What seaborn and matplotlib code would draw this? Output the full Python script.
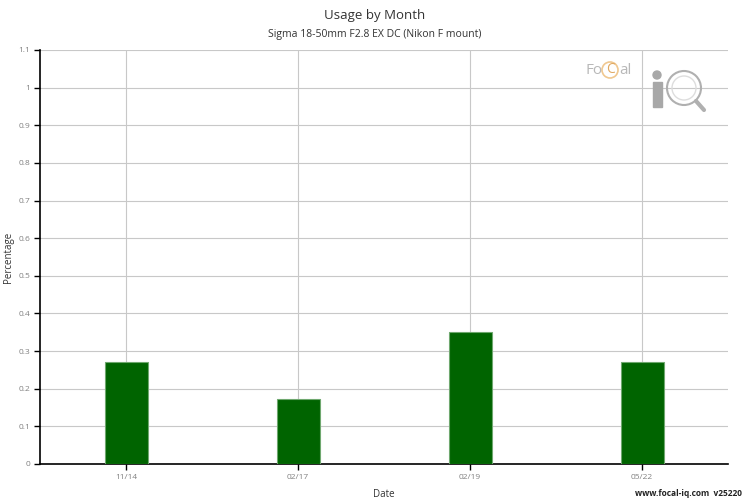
import matplotlib
matplotlib.use("Agg")
import matplotlib.pyplot as plt
import seaborn as sns
import pandas as pd
from matplotlib.patches import Circle, FancyBboxPatch

# données
dates = ["11/14", "02/17", "02/19", "05/22"]
pourcentages = [0.27, 0.174, 0.35, 0.27]
y_ticks = [0, 0.1, 0.2, 0.3, 0.4, 0.5, 0.6, 0.7, 0.8, 0.9, 1, 1.1]
y_labels = ["0", "0.1", "0.2", "0.3", "0.4", "0.5", "0.6", "0.7", "0.8", "0.9", "1", "1.1"]

df = pd.DataFrame({"Date": dates, "Percentage": pourcentages})

sns.set_theme(style="white")
plt.rcParams["font.family"] = ["Open Sans", "DejaVu Sans"]

fig = plt.figure(figsize=(7.5, 5), dpi=100)
ax = fig.add_axes([40 / 750, 36 / 500, 688 / 750, 414 / 500])

sns.barplot(data=df, x="Date", y="Percentage", color="#006400", width=0.25,
            edgecolor="#6fa86f", linewidth=0.8, saturation=1, ax=ax, zorder=3)

ax.set_xlim(-0.5, 3.5)
ax.set_ylim(0, 1.1)
ax.set_yticks(y_ticks)
ax.set_yticklabels(y_labels)

# grille
ax.grid(True, axis="both", color="#c8c8c8", linewidth=0.8, zorder=0)
ax.set_axisbelow(True)

for s in ["top", "right"]:
    ax.spines[s].set_visible(False)
for s in ["left", "bottom"]:
    ax.spines[s].set_color("black")
    ax.spines[s].set_linewidth(1.2)

ax.tick_params(axis="both", direction="out", length=4, width=1, color="black",
               labelsize=6, labelcolor="#808080", pad=3, left=True, bottom=True)

ax.set_xlabel("Date", fontsize=7, color="#333333")
ax.xaxis.set_label_coords(0.5, -25 / 414)
ax.set_ylabel("Percentage", fontsize=7, color="#333333")
ax.yaxis.set_label_coords(-0.038, 0.5)

# titres
fig.text(0.5, 1 - 16 / 500, "Usage by Month", ha="center", va="center",
         fontsize=9.5, color="#333333")
fig.text(0.5, 1 - 34 / 500, "Sigma 18-50mm F2.8 EX DC (Nikon F mount)", ha="center",
         va="center", fontsize=7.5, color="#333333")

# pied de page
fig.text(1 - 8 / 750, 1 - 493 / 500, "www.focal-iq.com  v25220", ha="right",
         va="center", fontsize=6, color="#222222", fontweight="bold")

# logo FoCal iQ approximatif
logo = fig.add_axes([580 / 750, 1 - 115 / 500, 130 / 750, 60 / 500])
logo.set_xlim(0, 130)
logo.set_ylim(0, 60)
logo.set_aspect("equal")
logo.axis("off")
logo.text(5, 45, "Fo", fontsize=11, color="#b8b8b8", va="center", ha="left")
logo.add_patch(Circle((30, 45), 8, fill=False, edgecolor="#f0c890", linewidth=1.2))
logo.text(30, 45.5, "C", fontsize=10, color="#e0a860", va="center", ha="center")
logo.text(39, 45, "al", fontsize=11, color="#b8b8b8", va="center", ha="left")
logo.add_patch(Circle((77, 40), 4, color="#a8a8a8"))
logo.add_patch(FancyBboxPatch((72.5, 8), 9, 25, boxstyle="square,pad=0", color="#a8a8a8"))
logo.add_patch(Circle((104, 27), 17, fill=False, edgecolor="#b0b0b0", linewidth=1.5))
logo.add_patch(Circle((104, 27), 12, fill=False, edgecolor="#dddddd", linewidth=1))
logo.plot([116, 124], [14, 5], color="#b0b0b0", linewidth=3, solid_capstyle="round")

fig.savefig("out.png", dpi=100)
